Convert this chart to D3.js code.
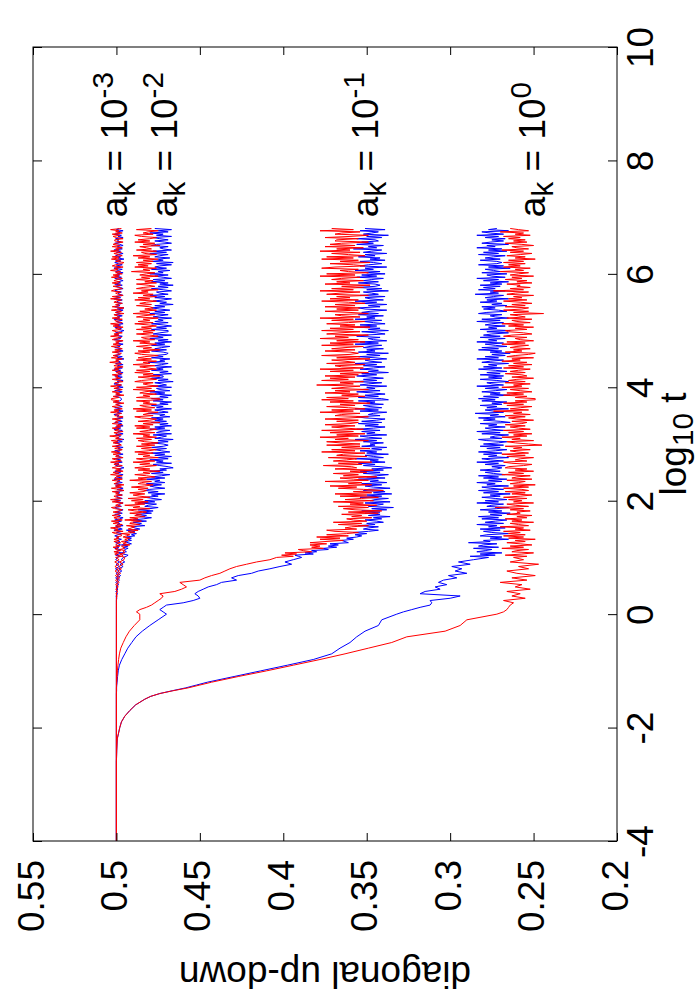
<!DOCTYPE html>
<html><head><meta charset="utf-8">
<script src="https://cdn.jsdelivr.net/npm/d3@7"></script>
<style>body{margin:0;background:#fff}</style>
</head><body><svg id="c" width="700" height="1000"></svg>
<script>
// ---------- data (values in thousandths of "diagonal up-down") ----------
// early samples at explicit log10 t; mid samples at t = 0, 0.04 ... 0.96; late samples at t = 1.00, 1.02 ... 6.80
const logTEarly = [-4, -3, -2.6, -2.4, -2.2, -2.0, -1.9, -1.8, -1.7, -1.6, -1.5, -1.45, -1.4, -1.35, -1.3, -1.25, -1.2, -1.1, -1.0, -0.9, -0.8, -0.7, -0.6, -0.5, -0.4, -0.3, -0.2, -0.1];
const midStart = 0, midStep = 0.04;
const lateStart = 1.0, lateStep = 0.02;

const redAk1Early = [500, 500, 500, 499.8, 499.5, 498, 497, 495, 492, 488.5, 483, 479.5, 474, 466, 457, 450, 443, 427, 410, 394, 378, 363, 349, 335, 326, 303, 294, 290];
const blueAk1Early = [500, 500, 500, 499.8, 499.5, 498, 497, 495, 492, 488.5, 483, 479.5, 474, 466.5, 458.5, 452, 445.5, 429.5, 413.5, 397.5, 382, 371, 366, 360, 356, 351, 343, 341];
const redAk01Early = [500, 500, 500, 500, 500, 500, 500, 500, 500, 500, 500, 500, 500, 500, 500, 499.9, 499.8, 499.6, 499.4, 499.1, 498.7, 498.2, 497.4, 495.9, 494.3, 492.2, 489.3, 486];
const blueAk01Early = [500, 500, 500, 500, 500, 500, 500, 500, 500, 500, 500, 500, 500, 499.9, 499.9, 499.8, 499.6, 499.3, 498.9, 498.2, 496.8, 495, 493.2, 490.8, 488.3, 484.5, 480, 475];
const flatEarly = [500, 500, 500, 500, 500, 500, 500, 500, 500, 500, 500, 500, 500, 500, 500, 500, 500, 500, 500, 500, 500, 500, 500, 500, 500, 500, 500, 500];

const redAk1Mid = [272, 268, 266, 265, 264, 262, 268, 255, 263, 258, 266, 252, 261, 257, 270, 254, 263, 249, 260, 266, 253, 259, 247, 264, 256];
const blueAk1Mid = [332, 328, 323, 318, 312, 311, 312, 300, 294, 318, 315, 306, 309, 302, 307, 304, 296, 301, 290, 297, 293, 299, 288, 295, 286];
const redAk01Mid = [486, 488, 486, 482, 479, 477, 475, 473, 472, 474, 465, 461, 458, 460, 462, 450, 447, 443, 438, 435, 432, 428, 422, 416, 408];
const blueAk01Mid = [470, 472, 474, 472, 470, 460, 454, 450, 451, 453, 451, 448, 445, 440, 437, 428, 431, 427, 419, 415, 408, 402, 395, 399, 394];
const redAk001Mid = [500, 500, 500, 500, 500, 500, 500, 500, 499.8, 500, 499.5, 500, 499, 499.7, 498.5, 499.5, 498, 499.5, 497.5, 499, 497, 498.5, 496, 498, 495.5];
const blueAk001Mid = [500, 500, 500, 500, 500, 500, 500, 499.8, 500, 499.6, 500, 499.3, 499.8, 498.8, 499.5, 498.2, 499.3, 497.5, 499, 496.8, 498.5, 496, 497.8, 495, 497];
const redAk0001Mid = [500, 500, 500, 500, 500, 500, 500, 500, 499.7, 500.2, 499.5, 500.3, 499.4, 500.4, 499.2, 500.5, 499.0, 500.6, 498.8, 500.8, 498.7, 500.9, 498.5, 501.0, 498.4];
const blueAk0001Mid = [500, 500, 500, 500, 500, 500, 500, 500, 500.2, 499.6, 500.3, 499.4, 500.2, 499.1, 500.4, 499.0, 500.5, 498.8, 500.3, 498.5, 500.6, 498.3, 500.2, 498.1, 500.4];

const redAk1Late = [
 262, 254, 267, 257, 250, 263, 260, 253, 269, 256, 264, 251, 258, 266, 255, 261, 249, 265, 256, 268,
 255, 265, 258, 268, 252, 261, 256, 270, 253, 259, 264, 250, 263, 257, 267, 254, 260, 251, 266, 258,
 260, 252, 264, 256, 273, 253, 261, 266, 250, 262, 257, 265, 254, 268, 258, 251, 263, 255, 267, 253,
 257, 268, 253, 262, 249, 264, 259, 255, 266, 251, 263, 260, 252, 269, 256, 265, 250, 261, 254, 267,
 265, 256, 251, 263, 268, 254, 261, 258, 250, 266, 255, 269, 253, 260, 264, 252, 262, 257, 267, 245,
 253, 261, 266, 250, 263, 258, 269, 254, 262, 251, 265, 256, 268, 252, 259, 264, 255, 267, 257, 254,
 263, 250, 260, 265, 255, 267, 252, 262, 257, 274, 253, 264, 258, 251, 266, 256, 268, 254, 261, 249,
 249, 261, 254, 268, 256, 266, 251, 258, 264, 253, 269, 257, 262, 252, 267, 255, 265, 260, 250, 263,
 254, 257, 267, 255, 264, 259, 252, 268, 256, 265, 251, 262, 254, 269, 258, 263, 250, 266, 261, 253,
 249, 267, 257, 262, 252, 264, 260, 253, 269, 255, 266, 250, 258, 261, 254, 268, 263, 251, 256, 265,
 267, 254, 261, 250, 265, 256, 269, 252, 260, 263, 251, 266, 255, 259, 264, 244, 262, 253, 268, 257,
 253, 267, 255, 263, 251, 258, 268, 254, 265, 257, 262, 250, 266, 261, 253, 274, 256, 264, 252, 260,
 258, 266, 251, 260, 254, 267, 257, 263, 250, 264, 259, 253, 270, 256, 261, 252, 268, 258, 265, 255,
 268, 256, 265, 249, 261, 255, 266, 258, 251, 264, 256, 269, 253, 260, 263, 250, 257, 267, 254, 262,
 255, 265, 258, 268, 252, 261, 256, 270, 253, 259, 264];
const blueAk1Late = [
 277, 288, 273, 282, 269, 284, 279, 275, 286, 271, 283, 280, 272, 289, 276, 280, 265, 276, 269, 282,
 278, 265, 275, 280, 270, 282, 267, 277, 272, 284, 268, 279, 273, 266, 281, 271, 283, 269, 276, 264,
 277, 269, 282, 272, 265, 278, 275, 268, 284, 271, 279, 266, 273, 281, 270, 276, 264, 280, 271, 283,
 268, 276, 281, 265, 278, 273, 284, 269, 277, 266, 280, 271, 283, 267, 274, 279, 270, 282, 272, 269,
 275, 267, 279, 271, 284, 268, 276, 281, 265, 277, 272, 280, 269, 283, 273, 266, 278, 270, 282, 268,
 280, 271, 266, 278, 283, 269, 276, 273, 265, 281, 270, 284, 268, 275, 279, 267, 277, 272, 282, 264,
 270, 280, 273, 283, 267, 276, 271, 285, 268, 274, 279, 265, 278, 272, 282, 269, 275, 266, 281, 273,
 283, 271, 280, 264, 276, 270, 281, 273, 266, 279, 271, 284, 268, 275, 278, 265, 272, 282, 269, 277,
 268, 282, 270, 278, 266, 273, 283, 269, 280, 272, 277, 265, 281, 276, 268, 284, 271, 279, 267, 275,
 264, 276, 269, 283, 271, 281, 266, 273, 279, 268, 284, 272, 277, 267, 282, 270, 280, 275, 265, 278,
 264, 282, 272, 277, 267, 279, 275, 268, 284, 270, 281, 265, 273, 276, 269, 283, 278, 266, 271, 280,
 273, 281, 266, 275, 269, 282, 272, 278, 265, 279, 274, 268, 285, 271, 276, 267, 283, 273, 280, 270,
 282, 269, 276, 265, 280, 271, 284, 267, 275, 278, 266, 281, 270, 274, 279, 264, 277, 268, 283, 272,
 269, 272, 282, 270, 279, 274, 267, 283, 271, 280, 266, 277, 269, 284, 273, 278, 265, 281, 276, 268,
 275, 267, 279, 271, 284, 268, 276, 281, 265, 277, 272];
const redAk01Late = [
 404, 394, 401, 392, 399, 383, 388, 391, 376, 383, 378, 384, 374, 384, 375, 364, 378, 366, 380, 361,
 374, 362, 355, 369, 374, 356, 363, 359, 349, 367, 353, 370, 350, 358, 362, 347, 359, 353, 365, 343,
 361, 341, 357, 364, 349, 367, 344, 360, 352, 370, 346, 363, 353, 343, 366, 350, 369, 347, 358, 340,
 352, 367, 356, 372, 347, 361, 353, 375, 349, 358, 366, 344, 364, 355, 370, 350, 360, 346, 369, 356,
 359, 376, 353, 367, 347, 370, 362, 356, 373, 350, 368, 364, 351, 377, 357, 371, 348, 365, 354, 374,
 354, 366, 374, 349, 369, 361, 378, 355, 368, 351, 372, 358, 377, 352, 363, 371, 357, 375, 360, 355,
 368, 355, 375, 360, 349, 369, 365, 354, 378, 358, 371, 351, 361, 374, 357, 366, 348, 372, 358, 377,
 361, 374, 351, 365, 355, 375, 360, 369, 349, 371, 363, 354, 380, 358, 366, 352, 377, 361, 372, 357,
 375, 355, 366, 349, 372, 358, 378, 352, 365, 369, 351, 374, 357, 363, 371, 348, 368, 354, 377, 360,
 355, 360, 375, 357, 371, 363, 352, 377, 358, 372, 351, 368, 355, 378, 361, 369, 349, 374, 366, 354,
 377, 358, 372, 348, 366, 357, 374, 361, 351, 371, 358, 378, 354, 365, 369, 349, 360, 375, 355, 368,
 354, 375, 357, 369, 351, 361, 377, 355, 372, 360, 368, 349, 374, 366, 354, 378, 358, 371, 352, 365,
 348, 375, 360, 368, 352, 371, 365, 354, 378, 357, 374, 349, 361, 366, 355, 377, 369, 351, 358, 372,
 348, 366, 355, 377, 358, 374, 351, 361, 371, 354, 378, 360, 368, 352, 375, 357, 372, 365, 349, 369,
 368, 355, 375, 360, 349, 369, 365, 354, 378, 358, 371];
const blueAk01Late = [
 389, 391, 393, 382, 387, 380, 383, 373, 376, 368, 373, 367, 372, 361, 363, 365, 358, 362, 356, 353,
 357, 350, 358, 349, 343, 352, 349, 343, 355, 345, 350, 340, 344, 351, 341, 346, 336, 349, 342, 351,
 342, 353, 338, 347, 334, 349, 344, 340, 351, 336, 348, 345, 337, 354, 341, 350, 335, 346, 339, 352,
 349, 336, 346, 351, 341, 353, 338, 348, 343, 355, 339, 350, 344, 337, 352, 342, 354, 340, 347, 335,
 342, 352, 345, 355, 339, 348, 343, 357, 340, 346, 351, 337, 350, 344, 354, 341, 347, 338, 353, 345,
 348, 340, 352, 344, 357, 341, 349, 354, 338, 350, 345, 353, 342, 356, 346, 339, 351, 343, 355, 341,
 353, 344, 339, 351, 356, 342, 349, 346, 338, 354, 343, 357, 341, 348, 352, 340, 350, 345, 355, 337,
 341, 355, 343, 351, 339, 346, 356, 342, 353, 345, 350, 338, 354, 349, 341, 357, 344, 352, 340, 348,
 356, 344, 353, 337, 349, 343, 354, 346, 339, 352, 344, 357, 341, 348, 351, 338, 345, 355, 342, 350,
 337, 355, 345, 350, 340, 352, 348, 341, 357, 343, 354, 338, 346, 349, 342, 356, 351, 339, 344, 353,
 337, 349, 342, 356, 344, 354, 339, 346, 352, 341, 357, 345, 350, 340, 355, 343, 353, 348, 338, 351,
 355, 342, 349, 338, 353, 344, 357, 340, 348, 351, 339, 354, 343, 347, 352, 337, 350, 341, 356, 345,
 342, 345, 355, 343, 352, 347, 340, 356, 344, 353, 339, 350, 342, 357, 346, 351, 338, 354, 349, 341,
 346, 354, 339, 348, 342, 355, 345, 351, 338, 352, 347, 341, 358, 344, 349, 340, 356, 346, 353, 343,
 345, 356, 341, 350, 337, 352, 347, 343, 354, 339, 351];
const redAk001Late = [
 495, 497, 496, 498, 495, 496, 495, 498, 495, 496, 497, 492, 496, 494, 497, 493, 495, 492, 496, 494,
 492, 497, 489, 493, 487, 493, 491, 489, 494, 486, 492, 491, 485, 495, 487, 492, 483, 489, 485, 492,
 482, 489, 493, 480, 490, 486, 495, 483, 489, 481, 491, 484, 493, 480, 486, 490, 483, 492, 484, 482,
 487, 481, 491, 483, 478, 487, 485, 479, 492, 482, 487, 477, 482, 489, 480, 484, 474, 487, 480, 489,
 483, 476, 486, 480, 490, 477, 484, 488, 475, 484, 480, 487, 478, 489, 481, 476, 485, 479, 488, 477,
 485, 475, 483, 487, 479, 488, 476, 484, 480, 490, 477, 486, 481, 476, 488, 480, 489, 478, 484, 474,
 487, 480, 476, 485, 489, 478, 484, 481, 475, 488, 479, 490, 477, 483, 486, 476, 484, 480, 488, 474,
 474, 488, 480, 484, 476, 486, 483, 477, 490, 479, 488, 475, 481, 484, 478, 489, 485, 476, 480, 487,
 474, 484, 478, 489, 480, 488, 476, 481, 486, 477, 490, 480, 484, 476, 488, 479, 487, 483, 475, 485,
 489, 480, 487, 474, 484, 479, 488, 481, 476, 486, 480, 490, 477, 483, 485, 475, 480, 488, 478, 484,
 477, 488, 479, 485, 476, 481, 489, 478, 487, 480, 484, 475, 488, 484, 477, 490, 480, 486, 476, 483,
 478, 480, 488, 479, 486, 482, 476, 489, 480, 487, 476, 484, 478, 490, 481, 485, 475, 488, 484, 477,
 481, 488, 476, 483, 478, 488, 480, 485, 475, 486, 482, 477, 491, 480, 484, 476, 489, 481, 487, 479,
 488, 478, 484, 475, 487, 480, 490, 476, 483, 485, 476, 488, 479, 482, 486, 474, 484, 477, 489, 480,
 487, 480, 476, 485, 489, 478, 484, 481, 475, 488, 479];
const blueAk001Late = [
 496, 494, 493, 496, 497, 494, 495, 495, 493, 496, 493, 497, 491, 493, 495, 491, 493, 491, 494, 489,
 491, 488, 492, 489, 494, 486, 489, 491, 483, 488, 485, 490, 482, 490, 484, 479, 486, 482, 488, 479,
 484, 478, 487, 480, 475, 483, 481, 476, 487, 477, 483, 473, 478, 483, 475, 479, 471, 481, 475, 483,
 480, 471, 477, 480, 473, 482, 471, 477, 474, 482, 471, 479, 473, 468, 479, 472, 480, 470, 474, 466,
 469, 474, 478, 467, 476, 472, 480, 469, 475, 467, 477, 471, 479, 468, 473, 477, 470, 479, 472, 469,
 472, 479, 469, 475, 466, 477, 473, 470, 478, 467, 476, 474, 468, 480, 471, 477, 467, 474, 469, 479,
 470, 477, 472, 479, 468, 474, 471, 481, 469, 473, 477, 467, 476, 472, 479, 469, 474, 467, 478, 472,
 479, 469, 474, 467, 477, 471, 480, 468, 474, 476, 467, 478, 470, 473, 477, 466, 475, 469, 479, 472,
 472, 478, 467, 474, 469, 479, 472, 476, 467, 477, 473, 469, 481, 471, 474, 468, 479, 472, 477, 470,
 469, 472, 479, 470, 477, 473, 468, 479, 471, 477, 467, 475, 469, 480, 472, 476, 467, 478, 474, 469,
 469, 479, 470, 476, 467, 472, 479, 469, 477, 472, 475, 467, 478, 474, 469, 480, 471, 477, 468, 474,
 479, 471, 477, 466, 474, 470, 478, 472, 467, 477, 471, 480, 469, 474, 476, 467, 472, 479, 469, 475,
 466, 474, 469, 479, 471, 478, 467, 472, 477, 469, 480, 472, 475, 468, 479, 470, 477, 474, 467, 476,
 466, 479, 472, 475, 468, 477, 474, 469, 480, 470, 478, 467, 472, 474, 469, 479, 476, 467, 471, 477,
 469, 474, 478, 467, 476, 472, 480, 469, 475, 467, 477];
const redAk0001Late = [
 500.5, 497, 499.5, 501, 498.5, 501.5, 497.5, 500.5, 499, 502, 498, 500.5, 499.5, 497.5, 501.5, 498.5, 501.5, 498.5, 500, 497,
 497, 500.5, 502.5, 496, 501, 499, 503.5, 497.5, 500.5, 496.5, 502, 498.5, 503, 496.5, 499.5, 501.5, 498, 502.5, 498.5, 497.5,
 502, 498.5, 496.5, 501, 503, 497.5, 500.5, 499, 496, 502.5, 498, 503.5, 497, 500, 501.5, 496.5, 500.5, 498.5, 502.5, 495.5,
 498.5, 503, 497, 500.5, 495.5, 501.5, 499.5, 498, 502.5, 496.5, 501, 500, 496.5, 503.5, 498.5, 502, 496, 500.5, 497.5, 502.5,
 500, 496.5, 501.5, 498.5, 503.5, 497, 500.5, 502.5, 496, 500.5, 498.5, 502, 497.5, 503, 499, 496.5, 501, 498, 502.5, 497,
 498, 502, 499, 503, 496.5, 500.5, 498.5, 504, 497, 499.5, 501.5, 496, 501, 498.5, 502.5, 497.5, 500, 496.5, 502.5, 499,
 500.5, 497.5, 502.5, 498.5, 496, 501, 500, 497, 503.5, 498.5, 501.5, 496.5, 499, 502.5, 498, 500.5, 495.5, 502, 498.5, 503,
 503, 498.5, 502, 495.5, 500.5, 498, 502.5, 499, 496.5, 501.5, 498.5, 503.5, 497, 500, 501, 496, 498.5, 502.5, 497.5, 500.5,
 499, 502.5, 496.5, 500, 497.5, 502.5, 498.5, 501, 496, 501.5, 499.5, 497, 504, 498.5, 500.5, 496.5, 503, 499, 502, 498,
 497, 502.5, 498, 501, 496.5, 499, 503, 497.5, 502, 498.5, 500.5, 496, 502.5, 500.5, 497, 503.5, 498.5, 501.5, 496.5, 500,
 502.5, 497.5, 500.5, 496, 502, 498.5, 503.5, 496.5, 500, 501, 496.5, 502.5, 498, 499.5, 501.5, 495.5, 500.5, 497, 503, 498.5,
 495.5, 502.5, 498.5, 500.5, 496.5, 501.5, 500, 497, 503.5, 498, 502.5, 496, 499, 500.5, 497.5, 503, 501, 496.5, 498.5, 502,
 497.5, 498.5, 502.5, 498, 501.5, 499.5, 496.5, 503, 498.5, 502, 496.5, 500.5, 497.5, 503.5, 499, 501, 496, 502.5, 500.5, 497,
 495.5, 500.5, 497.5, 503, 498.5, 502.5, 496.5, 499, 501.5, 497, 503.5, 498.5, 500.5, 496.5, 502.5, 498, 502, 500, 496, 501,
 501, 496, 500, 502, 498, 502.5, 496.5, 500.5, 498.5, 503.5, 497];
const blueAk0001Late = [
 499.5, 498, 500.5, 498.5, 497, 500, 499, 498, 501, 498.5, 500, 497.5, 499, 500.5, 498, 499.5, 497, 500, 498.5, 501,
 499, 496.5, 500, 497.5, 501.5, 496.5, 499, 500.5, 496, 499.5, 498, 500.5, 497, 501, 498, 496, 499.5, 497.5, 501, 496.5,
 500.5, 497.5, 496, 499.5, 501, 497, 499, 498, 496, 500.5, 497.5, 501.5, 496.5, 499, 500, 496.5, 499.5, 498, 501, 495.5,
 499.5, 496, 499, 500.5, 497.5, 501, 496.5, 499.5, 498, 501.5, 496.5, 500, 498.5, 496, 500.5, 497.5, 501, 497, 499, 495.5,
 497.5, 500.5, 498.5, 501, 496.5, 499, 497.5, 501.5, 496.5, 498.5, 500, 496, 499.5, 498, 501, 497, 499, 496, 500.5, 498.5,
 498, 501, 496.5, 499.5, 495.5, 500, 498.5, 497.5, 500.5, 496, 499.5, 499, 496.5, 501.5, 497.5, 500.5, 496, 499, 497, 501,
 496.5, 499, 500.5, 496, 499.5, 498.5, 501.5, 497, 499.5, 496, 500.5, 497.5, 501, 496.5, 498.5, 500, 497.5, 501, 498, 497,
 497, 498, 501, 497.5, 500, 498.5, 496.5, 501, 497.5, 500.5, 496, 499.5, 497, 501.5, 498.5, 499.5, 496, 500.5, 499, 496.5,
 501, 497, 499, 496, 500.5, 497.5, 501.5, 496.5, 499, 499.5, 496, 500.5, 497.5, 498.5, 500, 495.5, 499.5, 496.5, 501, 498,
 498.5, 500.5, 496, 499, 497, 501, 498, 499.5, 496, 500, 498.5, 496.5, 501.5, 497.5, 499, 496.5, 501, 498.5, 500.5, 497.5,
 495.5, 499, 497, 501, 497.5, 500.5, 496, 498.5, 500, 496.5, 501.5, 498, 499.5, 496.5, 501, 497.5, 500.5, 499, 496, 499.5,
 495.5, 501, 498, 499.5, 496.5, 500, 499, 496.5, 501.5, 497.5, 500.5, 496, 498, 499, 497, 501, 499.5, 496, 497.5, 500.5,
 496.5, 501, 497.5, 499.5, 496, 498, 501, 497, 500.5, 498, 499.5, 496, 500.5, 499, 496.5, 501.5, 497.5, 500, 496.5, 499,
 501, 497.5, 500.5, 495.5, 499, 497.5, 500.5, 498.5, 496, 500, 497.5, 501.5, 496.5, 499, 499.5, 496, 498, 501, 497, 499.5,
 498.5, 500.5, 496, 499, 497, 501, 498, 499.5, 496, 500, 498.5];

const akExponents = ["-3", "-2", "-1", "0"];
const akLabelValues = [0.5, 0.47, 0.35, 0.25];
const akLabelLogT = 7;
const timeTicks = [-4, -2, 0, 2, 4, 6, 8, 10];
const valueTicks = [0.2, 0.25, 0.3, 0.35, 0.4, 0.45, 0.5, 0.55];
const valueTickLabels = ["0.2", "0.25", "0.3", "0.35", "0.4", "0.45", "0.5", "0.55"];

// ---------- build ----------
function series(early, mid, late) {
  const pts = early.map((v, i) => ({ t: logTEarly[i], v: v / 1000 }));
  mid.forEach((v, i) => pts.push({ t: midStart + i * midStep, v: v / 1000 }));
  late.forEach((v, i) => pts.push({ t: lateStart + i * lateStep, v: v / 1000 }));
  return pts;
}
const blues = [
  series(flatEarly, blueAk0001Mid, blueAk0001Late),
  series(flatEarly, blueAk001Mid, blueAk001Late),
  series(blueAk01Early, blueAk01Mid, blueAk01Late),
  series(blueAk1Early, blueAk1Mid, blueAk1Late)
];
const reds = [
  series(flatEarly, redAk0001Mid, redAk0001Late),
  series(flatEarly, redAk001Mid, redAk001Late),
  series(redAk01Early, redAk01Mid, redAk01Late),
  series(redAk1Early, redAk1Mid, redAk1Late)
];

const L = 33, R = 617, T = 47, B = 841;
const FONT = "'Liberation Sans', Arial, Helvetica, sans-serif";
const FS = 37;
const x = d3.scaleLinear().domain([0.55, 0.2]).range([L, R]);
const y = d3.scaleLinear().domain([-4, 10]).range([B, T]);

const svg = d3.select("#c");
svg.append("rect").attr("width", 700).attr("height", 1000).attr("fill", "#fff");

const line = d3.line().x(d => x(d.v)).y(d => y(d.t));
const gl = svg.append("g").attr("fill", "none").attr("stroke-width", 1).attr("stroke-linejoin", "round");
blues.forEach(s => gl.append("path").attr("d", line(s)).attr("stroke", "#0000ff"));
reds.forEach(s => gl.append("path").attr("d", line(s)).attr("stroke", "#ff0000"));

// axes
function styleAxis(g) {
  g.select(".domain").remove();
  g.attr("color", "#000").attr("font-family", FONT).attr("font-size", FS);
  g.selectAll(".tick line").attr("stroke-width", 1);
}
const gR = svg.append("g").attr("transform", `translate(${R},0)`)
  .call(d3.axisRight(y).tickValues(timeTicks).tickSize(-9).tickFormat(d => String(d)));
styleAxis(gR);
gR.selectAll(".tick text").attr("x", null).attr("dy", null)
  .attr("transform", "translate(36,0) rotate(-90)").attr("text-anchor", "middle");

const gLft = svg.append("g").attr("transform", `translate(${L},0)`)
  .call(d3.axisLeft(y).tickValues(timeTicks).tickSize(-9).tickFormat(() => ""));
styleAxis(gLft);

const gB = svg.append("g").attr("transform", `translate(0,${B})`)
  .call(d3.axisBottom(x).tickValues(valueTicks).tickSize(-8).tickFormat((d, i) => valueTickLabels[i]));
styleAxis(gB);
gB.selectAll(".tick text").attr("y", null).attr("dy", null)
  .attr("transform", "translate(10,19) rotate(-90)").attr("text-anchor", "end");

const gT = svg.append("g").attr("transform", `translate(0,${T})`)
  .call(d3.axisTop(x).tickValues(valueTicks).tickSize(-8).tickFormat(() => ""));
styleAxis(gT);

svg.append("rect").attr("x", L).attr("y", T).attr("width", R - L).attr("height", B - T)
  .attr("fill", "none").attr("stroke", "#000").attr("stroke-width", 1);

// titles
const xt = svg.append("text").attr("font-family", FONT).attr("font-size", FS).attr("text-anchor", "middle")
  .attr("transform", `translate(686,${y(3)}) rotate(-90)`);
xt.append("tspan").text("log");
xt.append("tspan").attr("dy", 7).attr("font-size", FS * 0.8).text("10");
xt.append("tspan").attr("dy", -7).text(" t");

svg.append("text").attr("font-family", FONT).attr("font-size", FS).attr("text-anchor", "middle")
  .attr("transform", `translate(${x(0.375)},962) rotate(180)`).text("diagonal up-down");

// a_k labels
akExponents.forEach((e, i) => {
  const t = svg.append("text").attr("font-family", FONT).attr("font-size", FS).attr("text-anchor", "start")
    .attr("transform", `translate(${x(akLabelValues[i]) + 11},${y(akLabelLogT)}) rotate(-90)`);
  t.append("tspan").text("a");
  t.append("tspan").attr("dy", 8).attr("font-size", FS * 0.8).text("k");
  t.append("tspan").attr("dy", -8).text(" = 10");
  t.append("tspan").attr("dy", -14).attr("font-size", FS * 0.8).text(e);
});
</script>
</body></html>
